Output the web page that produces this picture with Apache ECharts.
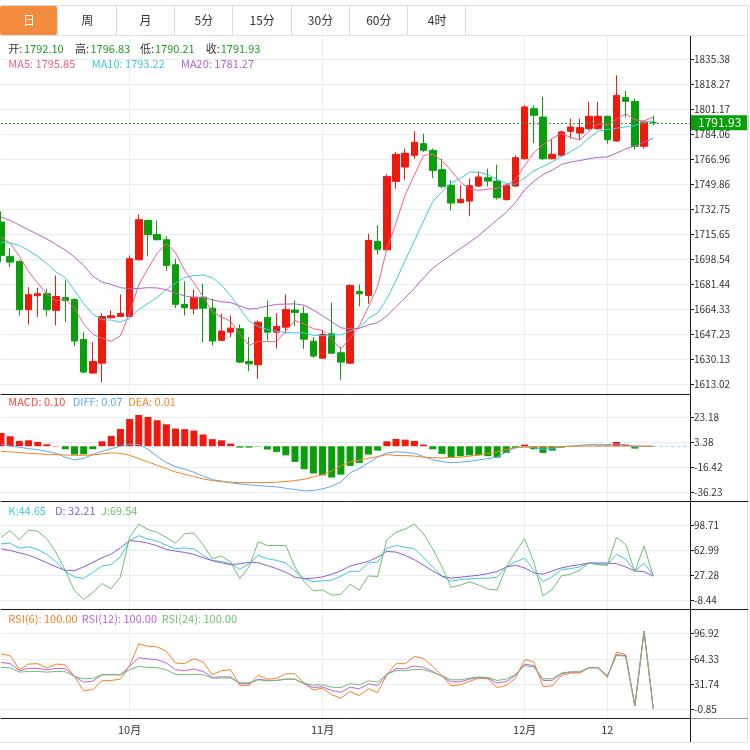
<!DOCTYPE html>
<html><head><meta charset="utf-8">
<script src="https://cdn.jsdelivr.net/npm/echarts@6/dist/echarts.min.js"></script>
<style>html,body{margin:0;padding:0;background:#fff;}#c{width:750px;height:750px;}</style>
</head><body><div id="c"></div>
<script>
// ---------------- data ----------------
const categories = ['2022-09-13','2022-09-14','2022-09-15','2022-09-16','2022-09-19','2022-09-20','2022-09-21','2022-09-22','2022-09-23','2022-09-26','2022-09-27','2022-09-28','2022-09-29','2022-09-30',
'2022-10-03','2022-10-04','2022-10-05','2022-10-06','2022-10-07','2022-10-10','2022-10-11','2022-10-12','2022-10-13','2022-10-14','2022-10-17','2022-10-18','2022-10-19','2022-10-20','2022-10-21','2022-10-24','2022-10-25','2022-10-26','2022-10-27','2022-10-28','2022-10-31',
'2022-11-01','2022-11-02','2022-11-03','2022-11-04','2022-11-07','2022-11-08','2022-11-09','2022-11-10','2022-11-11','2022-11-14','2022-11-15','2022-11-16','2022-11-17','2022-11-18','2022-11-21','2022-11-22','2022-11-23','2022-11-24','2022-11-25','2022-11-28','2022-11-29','2022-11-30',
'2022-12-01','2022-12-02','2022-12-05','2022-12-06','2022-12-07','2022-12-08','2022-12-09','2022-12-10','2022-12-11','2022-12-12','2022-12-13','2022-12-14','2022-12-15','2022-12-16','2022-12-19',
'2022-12-20','2022-12-21','2022-12-22','2022-12-23'];

const tabs = ['日','周','月','5分','15分','30分','60分','4时'];

// [open, close, low, high]
const ohlc = [
[1724.1,1701.3,1696.7,1731.4],[1700.6,1696.7,1693.3,1706.3],[1697.2,1664.1,1660.2,1697.9],[1664.1,1674.4,1653.8,1679.6],
[1673.7,1675.1,1659.1,1679.2],[1675.1,1664.1,1659.5,1678.5],[1663.7,1673.2,1653.4,1687.6],[1672.5,1670.5,1655.7,1684.2],
[1671.2,1642.7,1639.3,1671.8],[1643.8,1621.5,1620.8,1648.8],[1620.8,1628.7,1620.2,1642.0],[1627.6,1659.5,1614.6,1661.8],
[1658.6,1660.0,1658.0,1663.7],[1659.5,1661.6,1659.1,1674.6],[1659.5,1699.0,1659.1,1701.3],[1698.3,1725.7,1697.9,1729.3],
[1725.2,1715.4,1700.6,1725.6],[1715.6,1712.0,1711.5,1725.2],[1712.0,1694.4,1690.6,1714.3],[1694.9,1667.8,1665.3,1699.0],
[1667.8,1665.5,1660.2,1683.7],[1664.8,1672.7,1660.9,1677.8],[1672.7,1665.2,1642.0,1681.9],[1665.2,1642.7,1639.7,1671.6],
[1643.2,1649.5,1642.8,1661.4],[1648.8,1651.5,1645.4,1660.2],[1651.1,1628.3,1627.6,1654.1],[1628.7,1627.1,1622.1,1645.4],
[1626.5,1655.6,1616.9,1656.8],[1658.9,1648.8,1643.1,1670.5],[1648.8,1652.7,1637.4,1661.8],[1652.2,1664.3,1647.7,1674.6],
[1663.9,1662.3,1652.9,1670.5],[1661.4,1644.0,1637.4,1666.4],[1642.6,1632.4,1631.3,1645.4],[1631.0,1647.2,1630.6,1650.0],
[1647.7,1634.4,1634.0,1668.9],[1634.7,1628.3,1616.2,1638.6],[1627.6,1680.7,1627.2,1681.4],[1676.6,1675.0,1666.6,1681.4],
[1673.9,1711.5,1668.2,1716.1],[1710.8,1705.4,1701.9,1721.8],[1705.1,1755.3,1704.8,1756.7],[1751.9,1770.4,1746.9,1772.0],
[1761.7,1771.1,1753.0,1774.3],[1769.7,1778.6,1767.4,1786.1],[1777.7,1773.1,1772.0,1784.5],[1773.1,1759.4,1754.2,1774.3],
[1759.9,1748.5,1747.3,1767.4],[1749.2,1737.1,1732.1,1752.6],[1737.3,1739.6,1737.1,1749.2],[1738.4,1748.9,1728.2,1753.7],
[1748.7,1754.9,1748.0,1758.3],[1754.4,1752.1,1748.5,1760.6],[1752.1,1740.7,1739.4,1763.3],[1739.4,1749.2,1738.9,1750.3],
[1748.7,1768.1,1748.0,1769.7],[1767.4,1802.8,1766.7,1803.9],[1801.6,1797.1,1778.1,1803.9],[1795.9,1767.4,1766.3,1809.6],
[1767.4,1770.4,1767.0,1780.6],[1769.7,1785.7,1769.3,1786.8],[1786.1,1789.1,1781.1,1794.8],[1784.9,1788.6,1780.4,1794.8],
[1787.9,1796.4,1786.8,1806.2],[1787.9,1796.4,1787.3,1806.2],[1796.4,1780.4,1777.7,1796.8],[1779.5,1810.7,1779.1,1824.4],
[1809.2,1806.6,1795.5,1813.7],[1806.6,1775.9,1773.6,1808.5],[1775.9,1792.5,1774.3,1792.9],[1792.10,1791.93,1790.21,1796.83]
];

const ma5 = [1713.8,1709.7,1700.6,1690.4,1682.3,1674.9,1670.2,1671.5,1665.1,1654.4,1647.3,1644.6,1642.5,1646.3,1661.8,1681.2,1692.3,1702.7,1709.3,1703.1,1691.0,1682.5,1673.1,1662.8,1659.1,1656.3,1647.4,1639.8,1642.4,1642.3,1642.5,1649.7,1656.7,1654.4,1651.1,1650.0,1644.1,1637.3,1644.6,1653.1,1666.0,1680.2,1705.6,1723.5,1742.7,1756.2,1769.7,1770.5,1766.1,1759.3,1751.5,1746.7,1745.8,1746.5,1747.2,1749.2,1753.0,1762.6,1771.6,1776.9,1781.2,1784.7,1781.9,1780.2,1786.0,1791.2,1790.2,1794.5,1798.1,1794.0,1793.2,1795.85];
const ma10 = [1710.4,1709.7,1708.1,1704.7,1700.6,1695.6,1689.9,1686.0,1677.3,1668.4,1661.1,1657.4,1657.0,1655.7,1658.1,1664.2,1668.5,1672.6,1677.8,1682.4,1686.1,1687.4,1687.9,1686.0,1681.1,1673.7,1665.0,1656.5,1652.6,1650.7,1649.4,1648.6,1648.3,1648.4,1646.7,1646.3,1646.9,1647.0,1649.5,1652.1,1658.0,1662.1,1671.4,1684.1,1697.9,1711.1,1724.9,1738.1,1744.8,1751.0,1753.9,1758.2,1758.2,1756.3,1753.3,1750.4,1749.9,1754.2,1759.1,1762.1,1765.2,1768.8,1772.3,1775.9,1781.5,1786.2,1787.4,1788.2,1789.2,1790.0,1792.2,1793.22];
const ma20 = [1727.5,1725.2,1722.0,1718.8,1715.6,1712.5,1708.8,1704.9,1700.1,1694.4,1687.0,1683.0,1681.4,1679.2,1678.5,1678.7,1679.2,1679.0,1677.8,1675.4,1673.6,1672.4,1672.5,1670.9,1669.6,1669.0,1666.7,1664.5,1665.2,1666.6,1667.8,1668.0,1668.1,1667.2,1663.9,1660.0,1655.9,1651.7,1651.1,1651.4,1653.7,1655.3,1659.9,1666.2,1672.3,1678.7,1685.9,1692.5,1697.2,1701.6,1705.9,1710.2,1714.8,1720.2,1725.6,1730.7,1737.4,1746.1,1751.9,1756.6,1759.5,1763.5,1765.2,1766.1,1767.4,1768.3,1768.6,1771.2,1774.1,1776.1,1778.7,1781.27];

const macdBar = [10.5,7.9,4.2,4.7,3.4,1.5,0.3,-2.4,-6.6,-6.4,-2.4,3.9,8.2,13.7,21.6,24.8,23.2,20.6,17.4,14.0,13.5,12.4,9.3,5.6,4.7,2.1,-1.1,-1.1,-0.3,-2.6,-4.5,-7.2,-12.4,-18.2,-21.6,-23.0,-24.8,-22.5,-15.6,-13.2,-6.6,-3.5,3.9,5.8,5.2,4.2,1.3,-2.4,-6.1,-8.5,-7.9,-7.2,-7.2,-7.9,-9.0,-5.3,-1.3,1.3,-2.4,-5.3,-3.5,-1.1,-0.3,0.3,0.3,0.5,0.5,3.4,1.3,-1.9,-0.2,0.10];
const diff = [1.6,0.2,-0.8,-1.9,-2.7,-4.0,-5.6,-8.7,-10.9,-9.5,-6.6,-4.0,-1.9,0.0,1.6,1.3,-2.5,-8.0,-12.9,-16.2,-18.2,-20.6,-23.7,-26.5,-27.6,-29.0,-29.9,-30.6,-31.2,-31.7,-32.2,-33.3,-34.3,-35.4,-35.1,-33.8,-31.7,-28.3,-21.1,-17.7,-13.2,-8.7,-5.3,-4.5,-4.8,-5.7,-8.2,-10.6,-12.2,-13.0,-12.7,-11.9,-10.8,-9.8,-8.7,-4.5,-1.3,-0.3,-1.3,-2.4,-1.9,-0.3,-0.1,0.8,1.3,1.6,1.3,1.8,1.0,-0.6,0.0,0.07];
const dea = [-4.0,-4.5,-5.0,-5.6,-6.1,-6.4,-6.6,-6.9,-7.2,-7.2,-6.9,-6.1,-5.3,-5.6,-7.2,-9.8,-12.4,-15.1,-17.7,-20.4,-22.2,-24.0,-25.9,-27.2,-28.0,-28.5,-28.8,-28.8,-28.8,-28.8,-28.5,-28.0,-27.2,-26.2,-24.3,-22.5,-19.6,-15.6,-12.4,-11.1,-9.5,-8.2,-6.6,-7.4,-7.4,-7.8,-8.8,-9.0,-9.3,-9.0,-8.7,-7.9,-6.9,-5.8,-4.5,-2.4,-1.1,-0.6,-0.6,-0.6,-0.6,-0.3,0.0,0.2,0.2,0.2,0.2,0.2,0.3,0.3,0.1,0.01];

const kLine = [72.5,73.5,66.3,68.2,64.4,57.3,46.8,32.5,24.9,22.5,31.6,40.6,42.5,53.9,77.3,84.4,79.7,76.3,70.6,65.4,66.8,65.4,55.9,48.7,46.8,43.9,35.9,43.9,55.9,51.1,48.7,44.9,33.5,22.5,17.8,19.2,20.1,25.9,33.0,33.0,44.9,46.3,66.3,70.1,67.8,65.4,52.5,39.2,25.9,18.7,21.1,22.0,23.0,23.0,24.4,39.2,46.3,52.0,34.4,18.2,24.9,35.4,36.8,39.2,44.9,43.9,42.5,57.3,50.6,33.5,44.65,27.3];
const dLine = [65.4,63.0,59.5,56.3,51.1,45.4,39.2,34.4,33.9,39.2,45.9,52.5,57.8,66.8,77.3,75.9,73.5,69.7,64.4,62.0,60.1,57.3,52.5,48.2,45.4,42.5,43.9,45.9,45.4,41.1,36.8,31.6,24.4,22.5,23.0,24.9,28.7,33.5,40.6,43.9,47.3,53.5,61.6,60.6,55.9,49.7,41.6,33.5,25.9,23.0,24.4,25.9,27.3,29.7,32.5,39.2,41.6,37.8,30.6,28.7,33.5,37.8,40.6,42.5,44.9,44.9,44.9,43.9,39.2,33.5,32.21,25.9];
const jLine = [81.6,91.6,78.2,92.5,90.6,79.7,59.7,34.4,4.9,-7.5,2.5,15.4,7.8,24.9,82.1,101.1,93.0,89.2,81.6,73.5,87.3,88.2,71.1,51.1,54.9,46.3,22.5,39.2,75.4,70.1,70.1,70.1,39.2,17.8,4.9,5.9,-1.3,-0.3,14.4,5.9,26.3,25.4,78.2,89.2,93.9,101.1,86.8,65.4,39.2,9.7,13.0,17.8,13.0,7.3,5.9,39.2,60.6,79.7,46.3,-2.7,6.8,26.3,28.7,34.4,44.9,42.5,41.6,82.1,71.6,32.5,69.54,26.3];

const rsi6 = [70.5,68.4,50.2,57.5,58.0,52.4,57.5,56.2,41.6,23.0,24.7,35.9,36.4,38.1,55.4,83.5,80.5,79.6,74.0,58.8,58.0,64.5,60.2,43.7,48.9,50.2,30.3,29.9,43.3,38.1,39.0,45.0,45.0,32.9,24.3,26.4,17.8,13.5,22.1,16.9,25.6,20.8,43.7,58.0,58.0,67.5,64.5,54.5,42.8,29.5,30.8,35.1,39.4,38.5,27.3,29.9,39.4,63.2,60.1,28.6,29.5,42.8,45.9,45.9,52.8,52.8,40.3,72.7,69.6,3.5,100,0];
const rsi12 = [59.7,58.0,48.9,51.9,51.9,50.2,51.9,51.5,41.6,34.2,35.5,43.7,43.7,43.7,54.5,65.7,64.0,63.2,58.8,50.2,48.9,51.1,48.0,40.3,41.1,41.1,32.1,32.1,38.1,36.4,36.4,38.1,38.1,32.1,27.3,28.2,23.4,21.2,27.7,25.6,32.1,29.9,43.7,51.5,51.5,55.0,53.2,48.0,41.6,34.6,34.6,38.1,40.3,39.4,32.9,35.1,42.8,57.5,55.4,36.4,36.4,45.0,47.2,47.2,52.8,52.8,41.6,69.6,68.3,3.5,100,0];
const rsi24 = [53.2,52.4,47.1,48.0,48.0,47.1,48.0,47.6,41.6,38.5,39.0,43.7,43.7,43.7,50.2,54.5,53.2,52.8,50.2,44.1,43.7,44.1,43.7,39.4,39.4,39.4,33.4,33.4,37.2,35.9,36.4,38.1,37.7,32.9,30.3,30.8,27.7,27.3,32.1,30.8,35.9,34.2,44.6,48.9,48.9,50.6,50.2,46.7,42.4,37.2,37.2,39.4,40.7,40.3,36.4,38.1,43.7,55.4,53.7,38.5,38.5,45.9,47.6,47.6,52.8,52.8,42.4,68.8,67.5,3.5,100,0];

const priceTicks = [1835.38,1818.27,1801.17,1784.06,1766.96,1749.86,1732.75,1715.65,1698.54,1681.44,1664.33,1647.23,1630.13,1613.02];
const macdTicks = [23.18,3.38,-16.42,-36.23];
const kdjTicks = [98.71,62.99,27.28,-8.44];
const rsiTicks = [96.92,64.33,31.74,-0.85];
const monthTickIdx = [14,35,57,66];
const monthTickText = ['10月','11月','12月','12'];

const lastPrice = 1791.93;
const ohlcNames = ['开:','高:','低:','收:'];
const ohlcLegend = [1792.10,1796.83,1790.21,1791.93];
const maNames = ['MA5: ','MA10: ','MA20: '];
const maLegend = [1795.85,1793.22,1781.27];
const macdNames = ['MACD: ','DIFF: ','DEA: '];
const macdLegend = [0.10,0.07,0.01];
const kdjNames = ['K:','D: ','J:'];
const kdjLegend = [44.65,32.21,69.54];
const rsiNames = ['RSI(6): ','RSI(12): ','RSI(24): '];
const rsiLegend = [100.00,100.00,100.00];

// ---------------- styles / layout ----------------
const FONT = "'Noto Sans CJK SC','Noto Sans',sans-serif";
const RED = '#f0190d', GREEN = '#0a9f0a';
const C_MA5 = '#f0608e', C_MA10 = '#3fc6e0', C_MA20 = '#b660cf';
const C_DIFF = '#5ba9f2', C_DEA = '#f5821f', C_MACD = '#ef4a3c';
const C_K = '#3fc6e0', C_D = '#8a5cd6', C_J = '#6cc06c';
const C_R6 = '#f5821f', C_R12 = '#c160d6', C_R24 = '#6cc06c';
const AXIS = '#1a1a1a', SPLIT = '#e6edf2';

const panels = [
  {top:36, height:358, min:1606.5, max:1851.3, ticks:priceTicks},
  {top:394, height:107, min:-43.4, max:41.4, ticks:macdTicks},
  {top:501, height:108, min:-21.4, max:134.3, ticks:kdjTicks},
  {top:609.5, height:108.8, min:-12.4, max:127.8, ticks:rsiTicks}
];
const showTick = (idx) => monthTickIdx.indexOf(idx) >= 0;

const chart = echarts.init(document.getElementById('c'), null, {renderer:'canvas', width:750, height:750});

function lineSeries(name, data, color, xi, extra) {
  return Object.assign({name, type:'line', xAxisIndex:xi, yAxisIndex:xi, data, symbol:'none', smooth:false,
    lineStyle:{color, width:1}, itemStyle:{color}, silent:true}, extra || {});
}

// graphics: tab bar, legends, borders
const g = [];
g.push({type:'line', shape:{x1:0,y1:5.5,x2:748,y2:5.5}, style:{stroke:'#dddddd',lineWidth:1}, z:100});
g.push({type:'line', shape:{x1:0,y1:35.5,x2:748,y2:35.5}, style:{stroke:'#dddddd',lineWidth:1}, z:100});
tabs.forEach((t,k) => {
  const x0 = k * 58.3;
  if (k === 0) g.push({type:'rect', shape:{x:0,y:6,width:57,height:29,r:2}, style:{fill:'#f28b3c'}, z:100});
  g.push({type:'line', shape:{x1:Math.round(x0+58.3)-0.5,y1:6,x2:Math.round(x0+58.3)-0.5,y2:35}, style:{stroke:'#dddddd',lineWidth:1}, z:100});
  g.push({type:'text', x:x0+29, y:20.5, style:{text:t, fill:k===0?'#ffffff':'#333333', font:'12px '+FONT, align:'center', verticalAlign:'middle', textAlign:'center', textVerticalAlign:'middle'}, z:101});
});
function legendText(x, y, text, color) {
  g.push({type:'text', x, y, style:{text, fill:color, font:'11px '+FONT, align:'left', verticalAlign:'middle', textAlign:'left', textVerticalAlign:'middle'}, z:101});
}
const ohlcX = [8.3, 75, 140, 205.7], ohlcVX = [24, 90.5, 155, 220.7];
ohlcNames.forEach((n,k) => { legendText(ohlcX[k], 49.3, n, '#333333'); legendText(ohlcVX[k], 49.3, ohlcLegend[k].toFixed(2), '#1a9d1a'); });
const maX = [8.3, 91.7, 181], maC = [C_MA5, C_MA10, C_MA20];
maNames.forEach((n,k) => legendText(maX[k], 63.5, n + maLegend[k].toFixed(2), maC[k]));
const macdX = [8.3, 72.7, 128.3], macdC = [C_MACD, C_DIFF, C_DEA];
macdNames.forEach((n,k) => legendText(macdX[k], 401.7, n + macdLegend[k].toFixed(2), macdC[k]));
const kdjX = [8.3, 55, 101], kdjC = [C_K, C_D, C_J];
kdjNames.forEach((n,k) => legendText(kdjX[k], 511, n + kdjLegend[k].toFixed(2), kdjC[k]));
const rsiX = [8.3, 81.7, 161.7], rsiC = [C_R6, C_R12, C_R24];
rsiNames.forEach((n,k) => legendText(rsiX[k], 619.3, n + rsiLegend[k].toFixed(2), rsiC[k]));
// frame lines
g.push({type:'line', shape:{x1:747.5,y1:5,x2:747.5,y2:743}, style:{stroke:'#e2e2e2',lineWidth:1}, z:100});
g.push({type:'line', shape:{x1:0,y1:742.5,x2:748,y2:742.5}, style:{stroke:'#e2e2e2',lineWidth:1}, z:100});
g.push({type:'line', shape:{x1:690,y1:501.5,x2:748,y2:501.5}, style:{stroke:AXIS,lineWidth:1}, z:100});
g.push({type:'line', shape:{x1:690,y1:609.5,x2:748,y2:609.5}, style:{stroke:AXIS,lineWidth:1}, z:100});
g.push({type:'line', shape:{x1:690,y1:718.5,x2:748,y2:718.5}, style:{stroke:'#9a9a9a',lineWidth:1}, z:100});
g.push({type:'line', shape:{x1:690.5,y1:718,x2:690.5,y2:742}, style:{stroke:AXIS,lineWidth:1}, z:100});

const option = {
  animation:false,
  backgroundColor:'#ffffff',
  textStyle:{fontFamily:FONT},
  grid: panels.map(p => ({left:1, right:60, top:p.top, height:p.height})),
  xAxis: panels.map((p,i) => ({
    type:'category', gridIndex:i, data:categories, boundaryGap:false,
    axisLine:{show:true, onZero:false, lineStyle:{color:AXIS, width:1}},
    axisTick:{show:false},
    axisLabel:{show:i===3, interval:showTick, formatter:(v,idx)=>{const k=monthTickIdx.indexOf(idx); return k>=0?monthTickText[k]:'';},
      color:'#333', fontSize:11, fontFamily:FONT, margin:6},
    splitLine:{show:true, interval:showTick, lineStyle:{color:SPLIT, width:1}}
  })),
  yAxis: panels.map((p,i) => ({
    type:'value', gridIndex:i, position:'right', min:p.min, max:p.max,
    axisLine:{show:true, lineStyle:{color:AXIS, width:1}},
    axisTick:{show:true, inside:false, length:4, customValues:p.ticks, lineStyle:{color:AXIS}},
    axisLabel:{customValues:p.ticks, formatter:(v)=>Number(v).toFixed(2), color:'#333', fontSize:10, fontFamily:FONT, margin:4},
    splitLine:{show:true, lineStyle:{color:SPLIT, width:1}}
  })),
  series: [
    {name:'K线', type:'candlestick', xAxisIndex:0, yAxisIndex:0, data:ohlc, barWidth:7, silent:true,
      itemStyle:{color:RED, color0:GREEN, borderColor:RED, borderColor0:GREEN, borderColorDoji:GREEN, borderWidth:1},
      markLine:{symbol:['none','none'], silent:true, animation:false,
        data:[{yAxis:lastPrice}],
        lineStyle:{color:'#22a822', type:[2,2], width:1},
        label:{show:true, position:'end', formatter:()=>lastPrice.toFixed(2), color:'#ffffff', backgroundColor:'#0a9f0a',
          padding:[2,7,1,7], fontSize:12, fontFamily:FONT, distance:1}
      }
    },
    lineSeries('MA5', ma5, C_MA5, 0),
    lineSeries('MA10', ma10, C_MA10, 0),
    lineSeries('MA20', ma20, C_MA20, 0),
    {name:'MACD', type:'bar', xAxisIndex:1, yAxisIndex:1, data:macdBar, barWidth:7, silent:true,
      itemStyle:{color:(p)=> p.value >= 0 ? RED : GREEN},
      markLine:{symbol:['none','none'], silent:true, animation:false,
        data:[[{coord:[categories[71],0]},{coord:[categories[75],0]}]],
        lineStyle:{color:'#8fd6ee', type:[3,3], width:1}, label:{show:false}}
    },
    lineSeries('DIFF', diff, C_DIFF, 1),
    lineSeries('DEA', dea, C_DEA, 1),
    lineSeries('K', kLine, C_K, 2),
    lineSeries('D', dLine, C_D, 2),
    lineSeries('J', jLine, C_J, 2),
    lineSeries('RSI6', rsi6, C_R6, 3),
    lineSeries('RSI12', rsi12, C_R12, 3),
    lineSeries('RSI24', rsi24, C_R24, 3)
  ],
  graphic: g
};
chart.setOption(option);
</script>
</body></html>
